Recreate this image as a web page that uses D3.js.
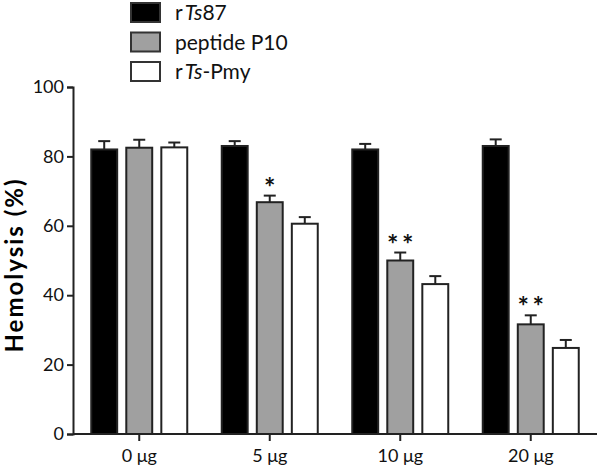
<!DOCTYPE html>
<html>
<head>
<meta charset="utf-8">
<script src="https://cdn.jsdelivr.net/npm/d3@7"></script>
<style>
  body { margin: 0; background: #fff; }
  text { font-family: Lato, "Open Sans", sans-serif; }
</style>
</head>
<body>
<svg id="chart" width="600" height="471"></svg>
<script>
// chart data
const doses = ['0 μg', '5 μg', '10 μg', '20 μg'];
const seriesNames = ['rTs87', 'peptide P10', 'rTs-Pmy'];
const rTs87 = [82, 83, 82, 83];
const rTs87Err = [2.4, 1.4, 1.6, 1.9];
const p10 = [82.5, 66.8, 50, 31.6];
const p10Err = [2.3, 1.9, 2.3, 2.6];
const pmy = [82.6, 60.6, 43.2, 24.8];
const pmyErr = [1.4, 1.9, 2.3, 2.3];
const stars = ['', '*', '**', '**'];
const yTicks = [0, 20, 40, 60, 80, 100];

const fills = ['#000000', '#a0a0a0', '#ffffff'];
const values = [rTs87, p10, pmy];
const errs = [rTs87Err, p10Err, pmyErr];

const svg = d3.select('#chart');

const x = d3.scaleBand().domain(doses).range([74, 596]).padding(0);
const sub = d3.scaleBand().domain(d3.range(3)).range([-48, 48]).paddingInner(0.26);
const y = d3.scaleLinear().domain([0, 100]).range([434, 87]);

// bars
values.forEach((vals, s) => {
  const g = svg.append('g');
  g.selectAll('rect')
    .data(vals)
    .enter()
    .append('rect')
    .attr('x', (d, i) => x(doses[i]) + x.bandwidth() / 2 + sub(s))
    .attr('y', d => y(d))
    .attr('width', sub.bandwidth())
    .attr('height', d => y(0) - y(d))
    .attr('fill', fills[s])
    .attr('stroke', '#222')
    .attr('stroke-width', 2);

  // error bars (upper only)
  vals.forEach((d, i) => {
    const cx = x(doses[i]) + x.bandwidth() / 2 + sub(s) + sub.bandwidth() / 2;
    const top = y(d + errs[s][i]);
    g.append('line')
      .attr('x1', cx).attr('x2', cx)
      .attr('y1', y(d)).attr('y2', top)
      .attr('stroke', '#222').attr('stroke-width', 2);
    g.append('line')
      .attr('x1', cx - 6).attr('x2', cx + 6)
      .attr('y1', top).attr('y2', top)
      .attr('stroke', '#222').attr('stroke-width', 2);
  });
});

// significance stars above peptide P10 bars
stars.forEach((st, i) => {
  if (!st) return;
  const cx = x(doses[i]) + x.bandwidth() / 2 + sub(1) + sub.bandwidth() / 2;
  svg.append('text')
    .attr('x', cx)
    .attr('y', y(p10[i] + p10Err[i]) + 1)
    .attr('text-anchor', 'middle')
    .attr('font-family', '"DejaVu Sans", sans-serif')
    .attr('font-size', 27)
    .attr('font-weight', 'bold')
    .attr('fill', '#111')
    .text(st.split('').join('\u2009'));
});

// y axis
const yAxis = svg.append('g')
  .attr('transform', 'translate(73,0)')
  .call(d3.axisLeft(y).tickValues(yTicks).tickSize(6).tickPadding(3));
yAxis.select('.domain').attr('stroke', '#222').attr('stroke-width', 2);
yAxis.selectAll('.tick line').attr('stroke', '#222').attr('stroke-width', 2);
yAxis.selectAll('text').attr('font-size', 18).attr('fill', '#111').attr('font-family', 'Lato, sans-serif');

// x axis
const xAxis = svg.append('g')
  .attr('transform', 'translate(0,434)')
  .call(d3.axisBottom(x).tickSize(7).tickSizeOuter(0).tickPadding(8));
xAxis.select('.domain').attr('stroke', '#222').attr('stroke-width', 2)
  .attr('d', 'M73,0H597');
xAxis.selectAll('.tick line').attr('stroke', '#222').attr('stroke-width', 2);
xAxis.selectAll('text').attr('font-size', 18).attr('fill', '#111').attr('font-family', 'Lato, sans-serif');

// y label
svg.append('text')
  .attr('transform', 'translate(23,265) rotate(-90)')
  .attr('text-anchor', 'middle')
  .attr('font-size', 24)
  .attr('font-weight', 'bold')
  .attr('letter-spacing', 2)
  .text('Hemolysis (%)');

// legend
const legend = svg.append('g').attr('transform', 'translate(131,3)');
seriesNames.forEach((name, i) => {
  const row = legend.append('g').attr('transform', `translate(0,${i * 29.5})`);
  row.append('rect')
    .attr('width', 29).attr('height', 19)
    .attr('fill', fills[i])
    .attr('stroke', '#333').attr('stroke-width', 2);
  const t = row.append('text')
    .attr('x', 44).attr('y', 17)
    .attr('font-size', 21)
    .attr('fill', '#111');
  if (name.startsWith('rTs')) {
    t.append('tspan').text('r');
    t.append('tspan').attr('font-style', 'italic').attr('dx', 2).text('Ts');
    t.append('tspan').text(name.slice(3));
  } else {
    t.text(name);
  }
});
</script>
</body>
</html>
